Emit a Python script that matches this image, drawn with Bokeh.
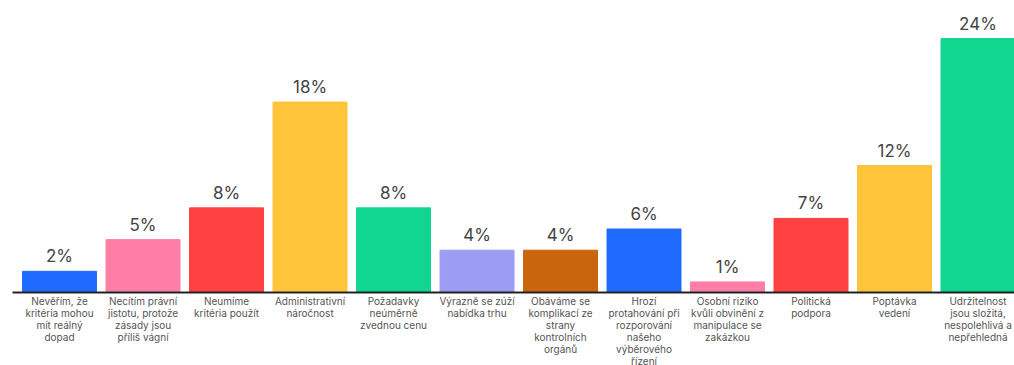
from bokeh.plotting import figure
from bokeh.models import ColumnDataSource
from bokeh.core.properties import value
from bokeh.embed import file_html
from bokeh.resources import INLINE

categories = [
    "Nevěřím, že\nkritéria mohou\nmít reálný\ndopad",
    "Necítím právní\njistotu, protože\nzásady jsou\npříliš vágní",
    "Neumíme\nkritéria použít",
    "Administrativní\nnáročnost",
    "Požadavky\nneúměrně\nzvednou cenu",
    "Výrazně se zúží\nnabídka trhu",
    "Obáváme se\nkomplikací ze\nstrany\nkontrolních\norgánů",
    "Hrozí\nprotahování při\nrozporování\nnašeho\nvýběrového\nřízení",
    "Osobní riziko\nkvůli obvinění z\nmanipulace se\nzakázkou",
    "Politická\npodpora",
    "Poptávka\nvedení",
    "Udržitelnost\njsou složitá,\nnespolehlivá a\nnepřehledná",
]
values = [2, 5, 8, 18, 8, 4, 4, 6, 1, 7, 12, 24]
colors = ["#1f6bff", "#ff7ea6", "#ff4141", "#ffc43a", "#10d690", "#9c9cf4",
          "#c9650c", "#1f6bff", "#ff7ea6", "#ff4141", "#ffc43a", "#10d690"]

xs = list(range(len(values)))
src = ColumnDataSource(dict(
    x=xs, v=values, c=colors, cat=categories,
    lbl=[f"{v}%" for v in values],
    zero=[0] * len(values),
))

p = figure(width=1014, height=365, output_backend="svg", toolbar_location=None,
           x_range=(-0.707, 11.437), y_range=(-6.9, 27.6),
           min_border=0, min_border_left=0, min_border_right=0,
           min_border_top=0, min_border_bottom=0)
p.axis.visible = False
p.grid.visible = False
p.outline_line_color = None
p.background_fill_color = "white"

p.vbar(x="x", top="v", width=0.886, color="c", source=src)
p.segment(x0=[-0.563], x1=[11.437], y0=[0], y1=[0], line_color="#222222", line_width=2)

p.text(x="x", y="v", text="lbl", source=src, text_align="center",
       text_baseline="bottom", y_offset=-5, text_font=value("Inter"),
       text_font_size="17px", text_color="#444444")
p.text(x="x", y="zero", text="cat", source=src, text_align="center",
       text_baseline="top", y_offset=2, text_font=value("Inter"),
       text_font_size="10px", text_color="#555555", text_line_height=1.0)

open("out.html", "w").write(file_html(p, INLINE))
